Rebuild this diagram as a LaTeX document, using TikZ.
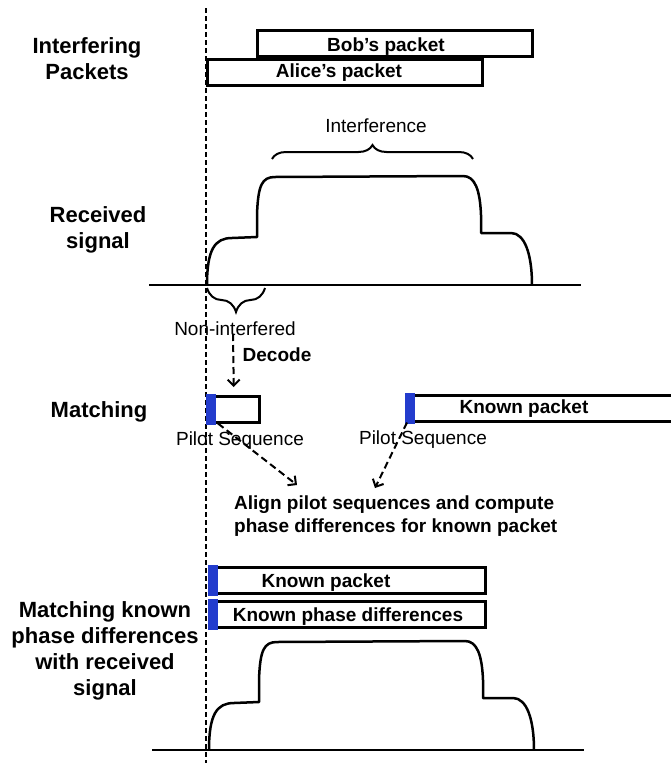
\documentclass[tikz,border=0pt]{standalone}
\usepackage{fontspec}
\setmainfont{Liberation Sans}
\usetikzlibrary{arrows.meta,decorations.pathreplacing}
\definecolor{PilotBlue}{RGB}{35,60,205}

% one received waveform, origin at its left foot
\tikzset{
  rxsignal/.pic={
    \draw[line width=2.5pt, line join=round]
      (0,0) .. controls (0,-36) and (8,-47) .. (25,-47) -- (50,-48) -- (50,-70)
      .. controls (51,-100) and (55,-108) .. (68,-108) -- (256,-109)
      .. controls (268,-109) and (273,-95) .. (274,-70) -- (274,-52) -- (304,-52)
      .. controls (318,-52) and (325,-30) .. (325,0);
  }
}

\begin{document}
\begin{tikzpicture}[
    x=1pt, y=-1pt,
    sidelabel/.style={font=\fontsize{22}{26}\selectfont\bfseries, align=center, inner sep=0pt},
    boxtext/.style={font=\fontsize{19}{22.5}\selectfont\bfseries, inner sep=0pt},
    note/.style={font=\fontsize{19}{22}\selectfont, inner sep=0pt},
    packet/.style={draw, line width=2.5pt, inner sep=0pt, anchor=north west, minimum height=26pt},
    timeline/.style={line width=1.3pt, dash pattern=on 5pt off 3pt},
    axis/.style={line width=2pt},
    dasharrow/.style={line width=2pt, dash pattern=on 7pt off 4pt,
      -{Straight Barb[length=6pt,width=12pt]}},
    bracket/.style={decorate, line width=2pt, decoration={brace, amplitude=#1}}
  ]
  \useasboundingbox (0,0) rectangle (671,763);
  \clip (0,0) rectangle (671,763);

  % time reference
  \coordinate (guide-top) at (206,8);
  \coordinate (guide-bottom) at (206,763);
  \draw[timeline] (guide-top) -- (guide-bottom);

  % interfering packets
  \node[sidelabel, anchor=north] (lbl-interfering) at (87,37) {Interfering\\Packets};
  \node[packet, minimum width=275pt] (bob) at (256,29) {};
  \node[boxtext, anchor=base] (bob-text) at (386,51) {Bob’s packet};
  \node[packet, minimum width=275pt] (alice) at (206,58) {};
  \node[boxtext, anchor=base] (alice-text) at (339,77) {Alice’s packet};

  % received signal
  \node[sidelabel, anchor=north] (lbl-received) at (98,206) {Received\\signal};
  \node[note, anchor=base] (interference) at (376,132) {Interference};
  \draw[bracket=14pt] (272,159) -- (473,159);
  \draw[axis] (149,285) -- (581,285);
  \pic at (207,285) {rxsignal};
  \draw[bracket=24pt] (265,288) -- (207,288);
  \node[note, anchor=base] (non-interfered) at (235,335) {Non-interfered};

  % matching
  \node[sidelabel, anchor=base] (lbl-matching) at (99,417) {Matching};
  \node[packet, minimum width=51pt] (pilot-box) at (207,395) {};
  \fill[PilotBlue] ([xshift=-1.25pt,yshift=1.25pt]pilot-box.north west)
    rectangle ([xshift=9pt,yshift=-1.25pt]pilot-box.south west);
  \node[note, anchor=base] (pilot-left) at (240,445) {Pilot Sequence};
  \node[packet, minimum width=300pt] (known-right) at (406,394) {};
  \fill[PilotBlue] ([xshift=-1.25pt,yshift=1.25pt]known-right.north west)
    rectangle ([xshift=9pt,yshift=-1.25pt]known-right.south west);
  \node[boxtext, anchor=base] (known-right-text) at (524,413) {Known packet};
  \node[note, anchor=base] (pilot-right) at (423,444) {Pilot Sequence};

  \coordinate (decode-start) at (233,334);
  \draw[dasharrow] (decode-start) -- ([yshift=8pt]pilot-box.north);
  \node[boxtext, anchor=base] (decode) at (277,361) {Decode};

  \node[boxtext, align=left, anchor=north west] (align-text) at (234,496)
    {Align pilot sequences and compute\\phase differences for known packet};
  \coordinate (align-left) at (297,485);
  \coordinate (align-right) at (375,488);
  \draw[dasharrow] ([xshift=11pt]pilot-box.south west) -- (align-left);
  \draw[dasharrow] ([xshift=1pt]known-right.south west) -- (align-right);

  % matching known phase differences
  \node[sidelabel, anchor=north] (lbl-final) at (105,601)
    {Matching known\\phase differences\\with received\\signal};
  \node[packet, minimum width=275pt] (known-low) at (209,566) {};
  \fill[PilotBlue] ([xshift=-1.25pt,yshift=1.25pt]known-low.north west)
    rectangle ([xshift=9pt,yshift=-1.25pt]known-low.south west);
  \node[boxtext, anchor=base] (known-low-text) at (326,587) {Known packet};
  \node[packet, minimum width=275pt] (phase-low) at (209,600) {};
  \fill[PilotBlue] ([xshift=-1.25pt,yshift=1.25pt]phase-low.north west)
    rectangle ([xshift=9pt,yshift=-1.25pt]phase-low.south west);
  \node[boxtext, anchor=base] (phase-low-text) at (348,621) {Known phase differences};
  \draw[axis] (152,750) -- (584,750);
  \pic at (209,750) {rxsignal};
\end{tikzpicture}
\end{document}
